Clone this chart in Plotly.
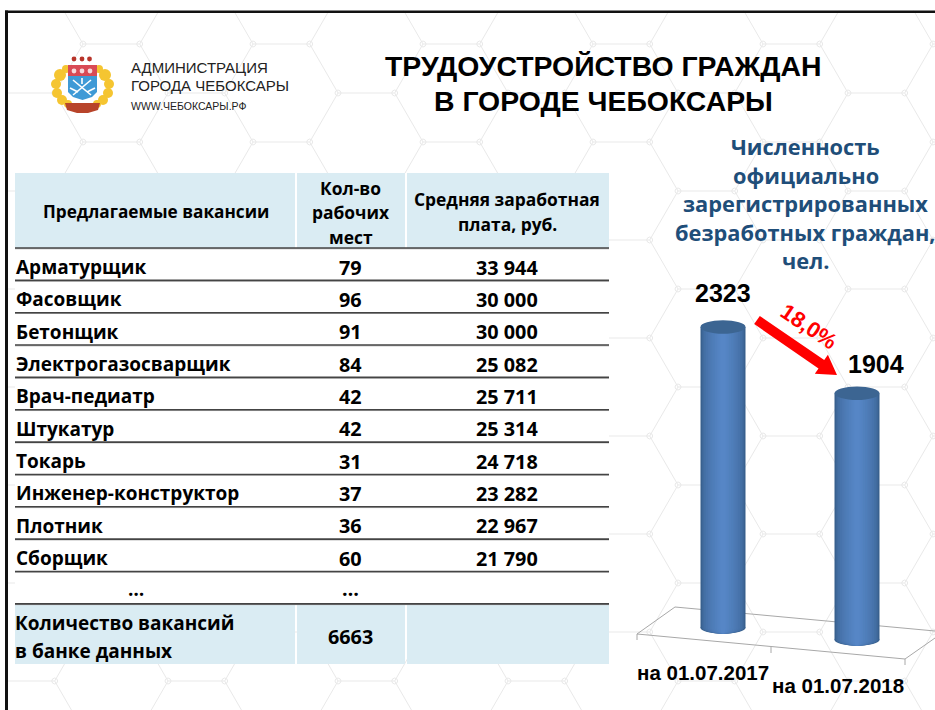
import math
import plotly.graph_objects as go

# ---------- data ----------
vacancies = ["Арматурщик", "Фасовщик", "Бетонщик", "Электрогазосварщик", "Врач-педиатр",
             "Штукатур", "Токарь", "Инженер-конструктор", "Плотник", "Сборщик", "…"]
positions = ["79", "96", "91", "84", "42", "42", "31", "37", "36", "60", "…"]
salaries = ["33 944", "30 000", "30 000", "25 082", "25 711", "25 314",
            "24 718", "23 282", "22 967", "21 790", ""]
header_vacancy = ["Предлагаемые вакансии"]
header_positions = ["Кол-во", "рабочих", "мест"]
header_salary = ["Средняя заработная", "плата, руб."]
footer_label = ["Количество вакансий", "в банке данных"]
footer_total = "6663"
dates = ["на 01.07.2017", "на 01.07.2018"]
unemployed = [2323, 1904]
change = "18,0%"
title = ["ТРУДОУСТРОЙСТВО ГРАЖДАН", "В ГОРОДЕ ЧЕБОКСАРЫ"]
side_title = ["Численность", "официально", "зарегистрированных", "безработных граждан,", "чел."]
org = ["АДМИНИСТРАЦИЯ", "ГОРОДА ЧЕБОКСАРЫ", "WWW.ЧЕБОКСАРЫ.РФ"]

W, H = 935, 710
BODY = "Open Sans"
ARIAL = "Liberation Sans"
shapes, notes = [], []


def rect(x0, y0, x1, y1, color, layer="below"):
    shapes.append(dict(type="rect", xref="x2", yref="y2", x0=x0, y0=y0, x1=x1, y1=y1,
                       fillcolor=color, line_width=0, layer=layer))


def line(x0, y0, x1, y1, color, width=1, layer="below"):
    shapes.append(dict(type="line", xref="x2", yref="y2", x0=x0, y0=y0, x1=x1, y1=y1,
                       line=dict(color=color, width=width), layer=layer))


def circle(cx, cy, rx, ry, color, layer="below"):
    shapes.append(dict(type="circle", xref="x2", yref="y2", x0=cx - rx, y0=cy - ry, x1=cx + rx, y1=cy + ry,
                       fillcolor=color, line_width=0, layer=layer))


def poly(points, color, layer="below"):
    d = "M " + " L ".join(f"{x:.1f},{y:.1f}" for x, y in points) + " Z"
    shapes.append(dict(type="path", xref="x2", yref="y2", path=d, fillcolor=color, line_width=0, layer=layer))


def text(x, y, s, size, color="#000", family=BODY, bold=True, anchor="center", angle=0):
    notes.append(dict(xref="x2", yref="y2", x=x, y=y, text=f"<b>{s}</b>" if bold else s, showarrow=False,
                      xanchor=anchor, yanchor="middle", align=anchor,
                      textangle=angle, font=dict(family=family, size=size, color=color)))


# ---------- hexagonal background ----------
HEX = "#e9e9e9"
s_, dy = 56.7, 49.0
parts = []
for r in range(-1, 16):
    y = 44 + (r - 1) * dy
    shift = 83 if r % 2 else -2
    for c in range(-1, 7):
        xa = shift + c * 170
        xb = xa + s_
        parts += [f"M {xa:.1f},{y:.1f} L {xb:.1f},{y:.1f}",
                  f"M {xb:.1f},{y:.1f} L {xb + 28.3:.1f},{y + dy:.1f}",
                  f"M {xa:.1f},{y:.1f} L {xa - 28.3:.1f},{y + dy:.1f}"]
        for nx_ in (xa, xb):
            ring = [(nx_ + 3 * math.cos(a * math.pi / 4), y + 3 * math.sin(a * math.pi / 4)) for a in range(8)]
            parts.append("M " + " L ".join(f"{u:.1f},{v:.1f}" for u, v in ring) + " Z")
shapes.append(dict(type="path", xref="x2", yref="y2", path=" ".join(parts), line=dict(color=HEX, width=1),
                   fillcolor="rgba(0,0,0,0)", layer="below"))

# ---------- frame ----------
rect(0, 0, W, 10.5, "#ffffff")
rect(0, 0, 5, H, "#ffffff")
rect(5, 10.5, W, 13, "#111111", "above")
rect(5, 10.5, 8, H, "#111111", "above")

# ---------- table ----------
TL, C1, C2, TR = 15, 296, 406, 609
HEAD = "#daecf3"
ROW0, ROWH = 248, 32.35
rect(TL, 173, TR, 605, "#ffffff")
rect(TL, 173, C1 - 1, 248, HEAD)
rect(C1 + 1, 173, C2 - 1, 248, HEAD)
rect(C2 + 1, 173, TR, 248, HEAD)
FOOT0 = ROW0 + ROWH * len(vacancies)
rect(TL, FOOT0, C1 - 1, 664, HEAD)
rect(C1 + 1, FOOT0, C2 - 1, 664, HEAD)
rect(C2 + 1, FOOT0, TR, 664, HEAD)
for i in range(len(vacancies) + 1):
    y = ROW0 + ROWH * i
    line(TL, y + 0.8, TR, y + 0.8, "#b5b5b5", 1)
    line(TL, y, TR, y, "#444444", 1.6)

NAME, NUM = 19, 19.8
text((TL + C1) / 2, 211, header_vacancy[0], 17.2)
for i, t in enumerate(header_positions):
    text(350.5, 187.5 + 24.5 * i, t, 17.4)
for i, t in enumerate(header_salary):
    text(507, 198.5 + 25 * i, t, 17.4)
for i, (v, p, sal) in enumerate(zip(vacancies, positions, salaries)):
    y = ROW0 + ROWH * i + 19
    if v == "…":
        text(136, y - 2, v, NAME)
    else:
        text(14, y, v, NAME, anchor="left")
    text(350.5, y - (2 if v == "…" else 0), p, NUM)
    if sal:
        text(507, y, sal, NUM)
for i, t in enumerate(footer_label):
    text(13, 622.5 + 28 * i, t, NAME, anchor="left")
text(350.5, 636, footer_total, NUM)

# ---------- titles ----------
for i, t in enumerate(title):
    text(603, 66 + 34.5 * i, t, 28.4, family=ARIAL)
for i, t in enumerate(side_title):
    text(805.5, 146.5 + 28.5 * i, t, 21.8, color="#1f4e79")
for t, y, size in zip(org, (67, 85, 106), (15, 15, 10.5)):
    text(129, y, t, size, color="#222", family=ARIAL, bold=False, anchor="left")

# ---------- emblem ----------
for cx, cy, r in [(60, 75, 6), (56, 84, 5), (57, 93, 5), (62, 100, 5), (105, 75, 6), (109, 84, 5),
                  (108, 93, 5), (103, 100, 5), (66, 69, 4), (99, 69, 4), (68, 104, 4), (97, 104, 4)]:
    circle(cx, cy, r, r, "#f5c531")
for cx in (74, 82, 89.5):
    circle(cx, 59, 2.4, 2.4, "#b8342a")
rect(68, 65, 97, 76, "#d94a55")
poly([(68, 76), (97, 76), (97, 92), (92, 97), (82.5, 100), (73, 97), (68, 92)], "#3f9ad6")
for cx in (74, 82, 90):
    circle(cx, 71, 2.4, 2.4, "#f7d9dc")
for a, b, c, d in [(73, 80, 91, 95), (91, 80, 73, 95), (82, 78, 82, 84), (70, 88, 78, 92), (95, 88, 87, 92)]:
    line(a, b, c, d, "#ffffff", 1.6)
poly([(65, 103), (100, 103), (98, 110), (88, 113), (77, 113), (67, 110)], "#b8442a")

# ---------- chart floor ----------
FLOOR = "#a8a8a8"
line(675, 607, W, 631, FLOOR)
line(675, 607, 637, 634, FLOOR)
line(637, 634, 905, 659, FLOOR)
line(905, 659, W, 638, FLOOR)
for (x, y) in [(637, 634), (771, 647), (905, 659)]:
    line(x, y, x, y + 6, FLOOR)

# ---------- cylinders ----------
PX_PER_UNIT = 0.1296
BASE_PX = [628, 640]
X0_PX, DX_PX = 723, 134
BAR_W = 45 / DX_PX
bases = [(BASE_PX[0] - p) / PX_PER_UNIT for p in BASE_PX]
levels = 12
traces = []
for k in range(levels):
    t = k / (levels - 1)
    w = BAR_W * (1 - t * 0.88)
    mix = t ** 0.5
    r_, g_, b_ = (int(56 + (86 - 56) * mix), int(96 + (134 - 96) * mix), int(142 + (198 - 142) * mix))
    col = f"rgb({r_},{g_},{b_})"
    traces.append(go.Bar(x=[0, 1], y=unemployed, base=bases, width=w, marker=dict(color=col, line_width=0),
                         showlegend=False, hoverinfo="skip"))
    for i, bp in enumerate(BASE_PX):
        circle(X0_PX + DX_PX * i, bp, w * DX_PX / 2, 5.5, col)
for i, (v, b) in enumerate(zip(unemployed, BASE_PX)):
    circle(X0_PX + DX_PX * i, b - v * PX_PER_UNIT, 22.5, 6.8, "#3c6592", "above")

# ---------- chart labels ----------
text(723, 292.5, f"{unemployed[0]}", 25, family=ARIAL)
text(876, 364, f"{unemployed[1]}", 25, family=ARIAL)
text(703, 672, dates[0], 20.5, family=ARIAL)
text(838, 685, dates[1], 20.5, family=ARIAL)
text(809, 326, change, 22, color="#ff0000", family=ARIAL, bold=True, angle=34)
ax0, ay0, ax1, ay1 = 757, 320, 837, 375
L = math.hypot(ax1 - ax0, ay1 - ay0)
ux, uy = (ax1 - ax0) / L, (ay1 - ay0) / L
nx, ny = -uy, ux
hw, HW, HL = 5, 11.5, 19
mx, my = ax1 - ux * HL, ay1 - uy * HL
poly([(ax0 + nx * hw, ay0 + ny * hw), (mx + nx * hw, my + ny * hw), (mx + nx * HW, my + ny * HW), (ax1, ay1),
      (mx - nx * HW, my - ny * HW), (mx - nx * hw, my - ny * hw), (ax0 - nx * hw, ay0 - ny * hw)], "#ff0000", "above")

# ---------- figure ----------
fig = go.Figure()
for tr in traces:
    fig.add_trace(tr)
fig.add_trace(go.Scatter(x=[0, W], y=[0, H], xaxis="x2", yaxis="y2", mode="markers", marker=dict(opacity=0),
                         hoverinfo="skip", showlegend=False))

fig.update_layout(
    width=W, height=H, margin=dict(l=0, r=0, t=0, b=0), autosize=False, barmode="overlay",
    paper_bgcolor="#ffffff", plot_bgcolor="rgba(0,0,0,0)", showlegend=False,
    xaxis=dict(domain=[0, 1], range=[-X0_PX / DX_PX, (W - X0_PX) / DX_PX], visible=False, fixedrange=True),
    yaxis=dict(domain=[0, 1], range=[(BASE_PX[0] - H) / PX_PER_UNIT, BASE_PX[0] / PX_PER_UNIT], visible=False,
               fixedrange=True),
    xaxis2=dict(domain=[0, 1], range=[0, W], visible=False, overlaying="x", fixedrange=True, anchor="y2"),
    yaxis2=dict(domain=[0, 1], range=[H, 0], visible=False, overlaying="y", fixedrange=True, anchor="x2"),
    shapes=shapes, annotations=notes,
)
fig.write_html("out.html", config=dict(displayModeBar=False),
               post_script="document.body.style.margin='0';document.documentElement.style.overflow='hidden';")
